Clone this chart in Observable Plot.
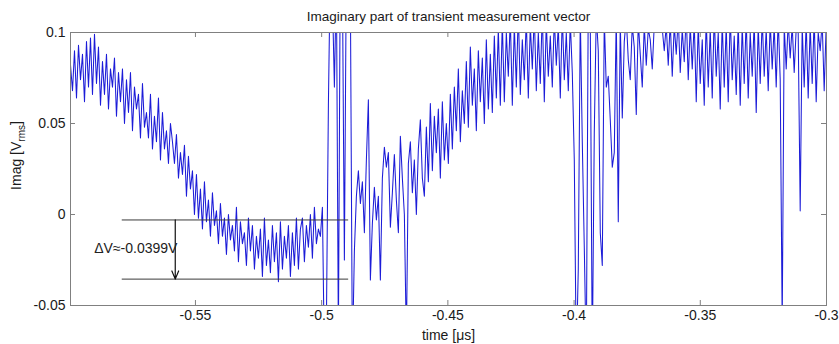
<!DOCTYPE html>
<html><head><meta charset="utf-8">
<script src="https://cdn.jsdelivr.net/npm/d3@7"></script>
<script src="https://cdn.jsdelivr.net/npm/@observablehq/plot@0.6"></script>
<style>body{margin:0;background:#fff} svg{display:block}</style>
</head><body><div id="chart"></div>
<script>
const titleText = "Imaginary part of transient measurement vector";
const xLabel = "time [μs]";
const yLabelMain = "Imag [V";
const yLabelSub = "rms";
const yLabelEnd = "]";
const xTicks = [-0.55, -0.5, -0.45, -0.4, -0.35, -0.3];
const yTicks = [-0.05, 0, 0.05, 0.1];
const xDomain = [-0.5995, -0.3];
const yDomain = [-0.05, 0.1];
const timeStart = -0.5995;   // µs, uniform sampling
const timeStep = 0.000792;   // µs
// imaginary part samples in mV
const imagMilliVolts = [
  82, 68, 90, 64, 93, 74, 88, 62, 95, 70, 97, 66, 99,
  72, 92, 60, 84, 66, 88, 58, 80, 70, 86, 54, 78, 62,
  80, 50, 74, 56, 78, 46, 70, 58, 66, 42, 72, 48,
  56, 42, 66, 36, 54, 40, 64, 30, 56, 36, 46, 28, 50,
  40, 28, 44, 20, 34, 22, 38, 10, 32, 14, 24, 0,
  22, -2, 14, -8, 18, -4, 8, -12, 12, -6,
  2, -16, 6, -12, -2, -22, 0, -14, -6, -20, 4, -26, -4, -16, -10, -28, -2, -20,
  -6, -30, -12, -24, -8, -34, -2, -28, -14, -32, -6, -26, -10, -37, -4, -30, -12, -24, -6, -34, -10, -28, -2, -30, -8,
  -2, -26, -6, -18, 0, -24, 4, -16, -8, -12,
  4, -80, -60, 60, 140, 120, 70, 130, -70, 150, 130, -25, 140, 160, 120, -80, -20, 10, 24, 6,
  18, -10, 30, 63, -36, -5, 15, -3, 10, -36, 20, 37, 26, 34, -7, 12, 33, 8, -10, 43,
  20, 0, -70, 28, 40, 12, 30, 0, 36, 52, 20, 10, 48, 18,
  61, 24, 54, 34, 58, 20, 62, 30, 50, 28, 66, 36, 70, 46, 80, 40, 68, 50, 84, 48,
  92, 60, 80, 46, 90, 62, 86, 50, 96, 58, 88, 56, 98, 64, 102, 60,
  106, 62, 100, 76, 108, 60, 104, 70, 112, 66, 96, 74, 108, 64, 104, 80, 110, 68, 100, 72,
  112, 62, 106, 76, 98, 70, 108, 82, 104, 64, 110, 74, 100, 68, 106, 78,
  30, -80, -30, 110, 40, -18, -80, 120, 105, -80, 45, 110, 90, -10, -28, 108, 70, 76, 52, 26,
  34, 110, -4, 106, 53, 95, 108, 85, 74, 104, 92, 55, 106, 88, 70, 104, 82, 102, 96, 80,
  104, 108, 106, 104, 102, 90, 104,
  82, 106, 76, 104, 88, 108, 78, 102, 84, 110, 74, 104, 80, 106,
  62,
  104, 72, 96, 60, 108, 70, 102, 64, 110, 76, 100, 58, 106, 70, 104, 62, 110, 74, 98, 66,
  106, 60, 104, 72, 108, 64, 100, 76, 106,
  56,
  104, 72, 108, 76, 102, 68, 106, 80, 104, 70, 108, 74,
  -60, 104, 80, 106, 86, 104, 78, 102, 100, 2, 104,
  70, 106, 64, 104, 72, 108, 62, 100, 90, 106, 68, 104
];
// annotation
const annotationLevels = [-0.003, -0.0355];
const annotationSpan = [-0.579, -0.4893];
const arrowX = -0.558;
const deltaLabel = "ΔV≈-0.0399V";
const deltaLabelPos = [-0.5901, -0.0187];

const signal = imagMilliVolts.map((v, i) => ({t: timeStart + i * timeStep, v: v / 1000}));

const W = 839, H = 344;
const mL = 70, mR = 13, mT = 32, mB = 39;
const innerW = W - mL - mR, innerH = H - mT - mB;
const tickLen = 5;
const font = "'Liberation Sans', Arial, Helvetica, sans-serif";

const chart = Plot.plot({
  width: W, height: H,
  marginLeft: mL, marginRight: mR, marginTop: mT, marginBottom: mB,
  style: {fontFamily: font, fontSize: "14px", color: "#1a1a1a", background: "#fff"},
  x: {domain: xDomain},
  y: {domain: yDomain},
  marks: [
    Plot.line(signal, {x: "t", y: "v", stroke: "#1c1cd8", strokeWidth: 1.05, clip: true}),
    Plot.ruleY(annotationLevels, {y: d => d, x1: annotationSpan[0], x2: annotationSpan[1], stroke: "#3a3a3a", strokeWidth: 1}),
    Plot.arrow([0], {x1: arrowX, y1: annotationLevels[0], x2: arrowX, y2: annotationLevels[1], stroke: "#111", strokeWidth: 1.2, headLength: 11, headAngle: 45}),
    Plot.text([deltaLabel], {x: deltaLabelPos[0], y: deltaLabelPos[1], text: d => d, textAnchor: "start", fontSize: 14, fill: "#222"}),
    Plot.frame({stroke: "#808080", strokeWidth: 1}),
    Plot.ruleX(xTicks, {x: d => d, insetTop: innerH - tickLen, stroke: "#808080"}),
    Plot.ruleX(xTicks, {x: d => d, insetBottom: innerH - tickLen, stroke: "#808080"}),
    Plot.ruleY(yTicks, {y: d => d, insetRight: innerW - tickLen, stroke: "#808080"}),
    Plot.ruleY(yTicks, {y: d => d, insetLeft: innerW - tickLen, stroke: "#808080"}),
    Plot.axisX(xTicks, {tickSize: 0, tickPadding: 5, tickFormat: d => String(d), label: null}),
    Plot.axisY(yTicks, {tickSize: 0, tickPadding: 5, tickFormat: d => String(d), label: null}),
    Plot.text([titleText], {frameAnchor: "top", dy: -16, lineAnchor: "middle", text: d => d, fontSize: 13.5, fill: "#1a1a1a"}),
    Plot.text([xLabel], {frameAnchor: "bottom", dy: 30, lineAnchor: "middle", text: d => d, fontSize: 14, fill: "#1a1a1a"})
  ]
});

const svg = d3.select(chart);
const yl = svg.append("text")
  .attr("transform", `translate(21,${mT + innerH / 2 - 13}) rotate(-90)`)
  .attr("text-anchor", "middle")
  .attr("font-family", font)
  .attr("font-size", 14)
  .attr("fill", "#1a1a1a");
yl.append("tspan").text(yLabelMain);
yl.append("tspan").attr("font-size", 10).attr("dy", 4).text(yLabelSub);
yl.append("tspan").attr("dy", -4).text(yLabelEnd);

document.getElementById("chart").appendChild(chart);
</script>
</body></html>
